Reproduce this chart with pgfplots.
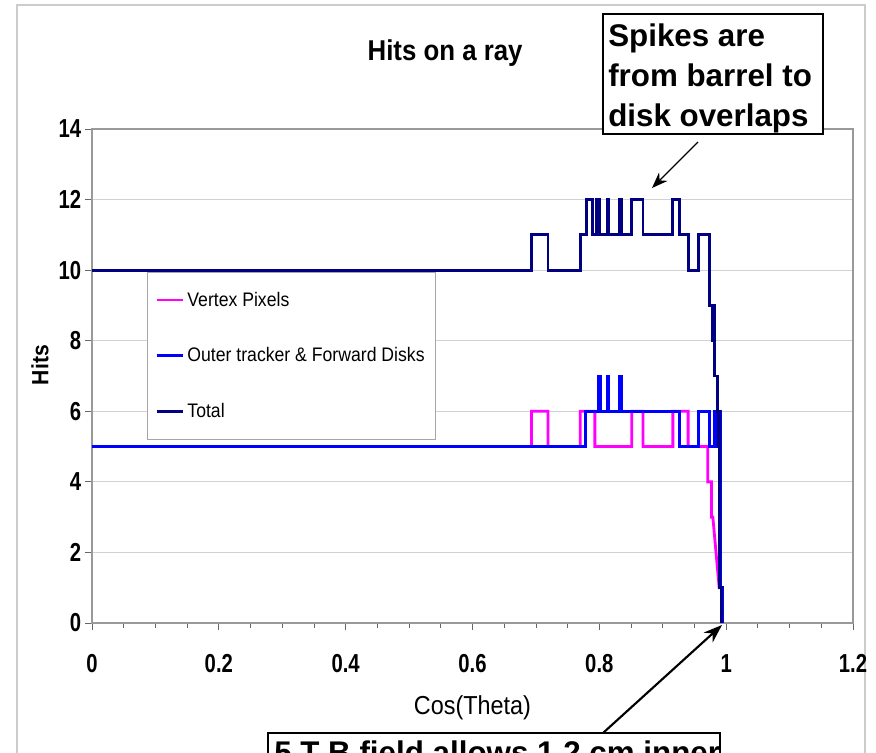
\documentclass[border=0pt]{standalone}
\usepackage{fontspec}
\setmainfont{Liberation Sans}[FakeStretch=0.9]
\newfontfamily\annfont{Liberation Sans}
\newfontfamily\tickfont{Liberation Sans}[FakeStretch=0.78]
\usepackage{pgfplots}
\pgfplotsset{compat=1.18}
\usetikzlibrary{arrows.meta}
\definecolor{navyx}{RGB}{0,0,128}
\definecolor{bluex}{RGB}{0,0,255}
\definecolor{magx}{RGB}{255,0,255}
\begin{document}
\begin{tikzpicture}
\useasboundingbox (0,0) rectangle (657pt,-564.75pt);
\clip (0,0) rectangle (657pt,-564.75pt);
\begin{scope}[x=0.75pt,y=-0.75pt]
\draw[gray!40, line width=0.8pt] (17,760) -- (17,5) -- (865,5) -- (865,760);
\end{scope}
\begin{axis}[
  at={(69pt,-467.25pt)}, anchor=south west,
  scale only axis, width=570.75pt, height=370.5pt,
  xmin=0, xmax=1.2, ymin=0, ymax=14,
  xtick distance=0.2, ytick distance=2,
  minor x tick num=3,
  tick align=outside,
  major tick length=5pt, minor tick length=4pt,
  xtick pos=bottom, ytick pos=left,
  every tick/.style={gray!80!black, line width=0.6pt},
  axis line style={gray!80, line width=0.8pt},
  ymajorgrids, grid style={gray!35, line width=0.8pt},
  /pgf/number format/assume math mode=true,
  xticklabel style={font=\tickfont\fontsize{19.5}{21}\selectfont\bfseries, anchor=center, yshift=-25.5pt},
  yticklabel style={font=\tickfont\fontsize{19.5}{21}\selectfont\bfseries, anchor=east, inner sep=0pt, xshift=-3pt},
  title={Hits on a ray},
  title style={font=\fontsize{21.5}{24}\selectfont\bfseries, at={(axis description cs:0.464,1.138)}, anchor=center},
  xlabel={Cos(Theta)},
  xlabel style={font=\fontsize{19.5}{22}\selectfont, at={(axis description cs:0.5,-0.172)}, anchor=center},
  ylabel={Hits},
  ylabel style={font=\fontsize{17.6}{20}\selectfont\bfseries, at={(axis description cs:-0.0683,0.522)}, anchor=center, rotate=0},
  legend style={at={(axis description cs:0.0723,0.7105)}, anchor=north west,
    draw=gray!70, fill=white, font=\fontsize{14.7}{17}\selectfont,
    row sep=25.5pt, inner xsep=6pt, inner ysep=12.75pt},
  legend cell align=left,
  legend image code/.code={\draw[#1, line width=2.1pt] (0pt,0pt) -- (20pt,0pt);},
  every axis plot/.append style={line width=2.1pt, line join=miter},
]
\addplot[magx] coordinates {
(0,5) (0.693,5) (0.693,6) (0.719,6) (0.719,5) (0.770,5) (0.770,6) (0.793,6) (0.793,5)
(0.851,5) (0.851,6) (0.869,6) (0.869,5) (0.916,5) (0.916,6) (0.940,6) (0.940,5)
(0.971,5) (0.971,4) (0.977,4) (0.977,3) (0.979,3) (0.989,1) (0.993,1) (0.993,0)
};
\addlegendentry{Vertex Pixels}
\addplot[bluex] coordinates {
(0,5) (0.778,5) (0.778,6) (0.799,6) (0.799,7) (0.802,7) (0.802,6) (0.812,6) (0.812,7)
(0.815,7) (0.815,6) (0.832,6) (0.832,7) (0.835,7) (0.835,6) (0.927,6) (0.927,5)
(0.956,5) (0.956,6) (0.974,6) (0.974,5) (0.981,5) (0.981,6) (0.983,6) (0.983,5)
(0.985,5) (0.985,6) (0.987,6) (0.987,5) (0.989,5) (0.989,6) (0.991,6) (0.991,1)
(0.994,1) (0.994,0)
};
\addlegendentry{Outer tracker \& Forward Disks}
\addplot[navyx] coordinates {
(0,10) (0.693,10) (0.693,11) (0.719,11) (0.719,10) (0.770,10) (0.770,11) (0.780,11)
(0.780,12) (0.789,12) (0.789,11) (0.796,11) (0.796,12) (0.800,12) (0.800,11) (0.812,11)
(0.812,12) (0.815,12) (0.815,11) (0.832,11) (0.832,12) (0.835,12) (0.835,11) (0.851,11)
(0.851,12) (0.869,12) (0.869,11) (0.916,11) (0.916,12) (0.927,12) (0.927,11) (0.940,11)
(0.940,10) (0.957,10) (0.957,11) (0.974,11) (0.974,9) (0.979,9) (0.979,8) (0.980,8)
(0.980,9) (0.981,9) (0.981,8) (0.982,8) (0.982,7) (0.986,7) (0.986,6) (0.987,6)
(0.987,5) (0.988,5) (0.988,6) (0.989,6) (0.989,5) (0.990,5) (0.990,1) (0.993,1) (0.993,0)
};
\addlegendentry{Total}
\end{axis}
\begin{scope}[x=0.75pt,y=-0.75pt]
\draw[black, line width=1.2pt, fill=white] (603,14) rectangle (823,134);
\node[anchor=north west, inner sep=0pt, align=left,
  font=\annfont\fontsize{23.5}{30}\selectfont\bfseries] at (608,24)
  {Spikes are\\from barrel to\\disk overlaps};
\draw[black, line width=1pt, -{Stealth[length=12pt, width=9pt]}] (698,142) -- (652,188);
\draw[black, line width=1.6pt, -{Stealth[length=14pt, width=10pt]}] (603,733) -- (722,625);
\draw[black, line width=1.2pt, fill=white] (268,733) rectangle (720,810);
\node[anchor=north west, inner sep=0pt, align=left,
  font=\annfont\fontsize{23.5}{30}\selectfont\bfseries] at (274,741)
  {5 T B field allows 1.2 cm inner\\radius};
\end{scope}
\end{tikzpicture}
\end{document}
